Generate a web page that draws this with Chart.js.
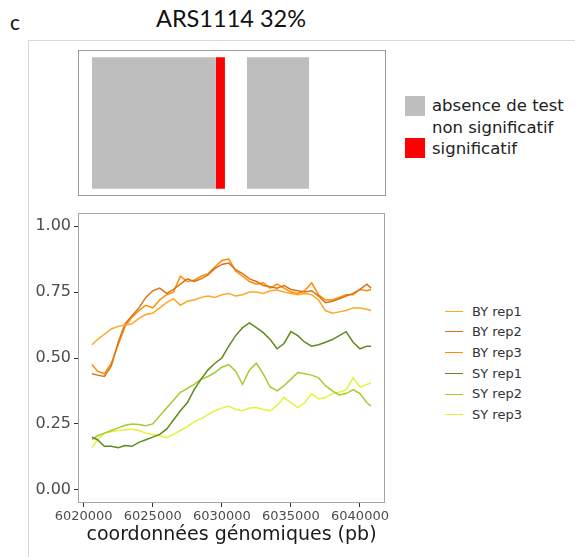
<!DOCTYPE html>
<html><head><meta charset="utf-8">
<script src="https://cdn.jsdelivr.net/npm/chart.js@4"></script>
<style>
html,body{margin:0;padding:0;background:#fff;width:575px;height:557px;overflow:hidden;position:relative;font-family:"DejaVu Sans",sans-serif;}
.abs{position:absolute;}
#frameTop{left:28px;top:40px;width:547px;height:0;border-top:1px solid #d9d9d9;}
#frameLeft{left:28px;top:40px;width:0;height:517px;border-left:1px solid #d9d9d9;}
#letter{left:10px;top:9px;font-family:Lato,"Open Sans",sans-serif;font-size:21px;color:#111;}
#title{left:121px;width:220px;top:4px;text-align:center;font-family:Lato,"Open Sans",sans-serif;font-size:23.5px;color:#111;}
.lg1{font-size:16.5px;color:#222;white-space:nowrap;line-height:18px;}
.sw{width:20px;height:20px;}
.lg2{font-size:13px;color:#333;white-space:nowrap;line-height:16px;}
.ln{width:18px;height:0;border-top:1.5px solid;}
</style></head>
<body>
<div id="frameTop" class="abs"></div>
<div id="frameLeft" class="abs"></div>
<div id="letter" class="abs">c</div>
<div id="title" class="abs">ARS1114 32%</div>
<div class="abs" style="left:78px;top:50px;width:308px;height:146px;"><canvas id="top"></canvas></div>
<div class="abs" style="left:0px;top:205px;width:390px;height:352px;"><canvas id="main"></canvas></div>
<div id="legTop"></div>
<div id="legMain"></div>
<script>
// ---- data ----
const positions = [6020600,6021000,6021500,6022000,6022500,6023000,6023500,6024000,6024500,6025000,6025500,6026000,6026500,6027000,6027500,6028000,6028500,6029000,6029500,6030000,6030500,6031000,6031500,6032000,6032500,6033000,6033500,6034000,6034500,6035000,6035500,6036000,6036500,6037000,6037500,6038000,6038500,6039000,6039500,6040000,6040500,6040800];
const BY_rep1 = [0.55,0.57,0.59,0.61,0.62,0.625,0.63,0.65,0.665,0.67,0.69,0.71,0.725,0.70,0.715,0.72,0.73,0.735,0.73,0.74,0.745,0.735,0.74,0.75,0.75,0.745,0.755,0.758,0.75,0.745,0.74,0.745,0.74,0.72,0.68,0.67,0.675,0.68,0.69,0.69,0.685,0.68];
const BY_rep2 = [0.44,0.435,0.43,0.47,0.56,0.63,0.66,0.69,0.73,0.755,0.765,0.745,0.76,0.78,0.80,0.79,0.80,0.815,0.84,0.855,0.86,0.835,0.82,0.80,0.79,0.775,0.77,0.765,0.775,0.76,0.755,0.75,0.755,0.735,0.71,0.715,0.725,0.735,0.745,0.76,0.78,0.765];
const BY_rep3 = [0.475,0.45,0.44,0.48,0.55,0.62,0.655,0.68,0.70,0.69,0.72,0.74,0.75,0.81,0.79,0.795,0.81,0.82,0.845,0.87,0.875,0.83,0.81,0.79,0.78,0.785,0.765,0.78,0.765,0.75,0.745,0.755,0.785,0.74,0.72,0.72,0.73,0.74,0.74,0.76,0.755,0.76];
const SY_rep1 = [0.20,0.19,0.165,0.165,0.16,0.168,0.165,0.18,0.19,0.20,0.21,0.23,0.265,0.30,0.33,0.38,0.42,0.455,0.48,0.50,0.545,0.585,0.615,0.633,0.615,0.596,0.57,0.535,0.555,0.60,0.585,0.56,0.545,0.55,0.56,0.57,0.585,0.60,0.56,0.535,0.545,0.545];
const SY_rep2 = [0.19,0.205,0.215,0.225,0.235,0.245,0.25,0.248,0.243,0.25,0.28,0.31,0.34,0.37,0.385,0.40,0.42,0.43,0.445,0.465,0.475,0.45,0.40,0.455,0.48,0.44,0.39,0.375,0.395,0.42,0.445,0.44,0.435,0.425,0.395,0.375,0.36,0.365,0.38,0.365,0.33,0.318];
const SY_rep3 = [0.16,0.19,0.215,0.22,0.225,0.228,0.23,0.225,0.215,0.21,0.205,0.198,0.21,0.225,0.24,0.258,0.27,0.285,0.30,0.31,0.318,0.305,0.30,0.31,0.312,0.305,0.30,0.32,0.35,0.33,0.312,0.33,0.365,0.345,0.35,0.365,0.37,0.38,0.425,0.39,0.40,0.405];
const seriesNames = ["BY rep1","BY rep2","BY rep3","SY rep1","SY rep2","SY rep3"];
const seriesColors = ["#FFA726","#D9731A","#FF8C00","#5F8A1E","#A3CC2E","#E4F23A"];
const xTicks = [6020000,6025000,6030000,6035000,6040000];
const yTicks = [0,0.25,0.5,0.75,1.0];
// test segments (top panel): [start, end]
const segAbsence = [[6020600,6029540],[6031780,6036260]];
const segSignif = [[6029540,6030190]];
const segLabelsTop = ["absence de test","non significatif","significatif"];
const X_MIN = 6019590, X_MAX = 6041810;

const borderPlugin = {
  id:'box',
  afterDraw(chart, args, opts){
    const a = chart.chartArea, c = chart.ctx;
    c.save(); c.strokeStyle = opts.color || '#a6a6a6'; c.lineWidth = 1;
    c.strokeRect(Math.round(a.left)+0.5, Math.round(a.top)+0.5, Math.round(a.right-a.left)-1, Math.round(a.bottom-a.top)-1);
    c.restore();
  }
};

// ---- top panel ----
const topData = [];
segAbsence.forEach(s=>topData.push({data:[s], backgroundColor:'#BEBEBE'}));
segSignif.forEach(s=>topData.push({data:[s], backgroundColor:'#FF0000'}));
new Chart(document.getElementById('top'), {
  type:'bar',
  data:{labels:['t'], datasets: topData.map(d=>({data:d.data, backgroundColor:d.backgroundColor, borderWidth:0, grouped:false, barPercentage:0.9, categoryPercentage:1}))},
  options:{
    indexAxis:'y', responsive:true, maintainAspectRatio:false, animation:false,
    layout:{padding:0},
    plugins:{legend:{display:false}, tooltip:{enabled:false}, box:{color:'#9a9a9a'}},
    scales:{
      x:{type:'linear', min:X_MIN, max:X_MAX, display:false},
      y:{display:false}
    }
  },
  plugins:[borderPlugin]
});

// ---- main panel ----
const ds = [BY_rep1,BY_rep2,BY_rep3,SY_rep1,SY_rep2,SY_rep3].map((arr,i)=>({
  label: seriesNames[i],
  data: positions.map((p,j)=>({x:p, y:arr[j]})),
  borderColor: seriesColors[i],
  backgroundColor: seriesColors[i],
  borderWidth:1.5, pointRadius:0, tension:0, fill:false
}));
new Chart(document.getElementById('main'), {
  type:'line',
  data:{datasets:ds},
  options:{
    responsive:true, maintainAspectRatio:false, animation:false,
    layout:{padding:{top:8,right:5,left:0,bottom:0}},
    plugins:{legend:{display:false}, tooltip:{enabled:false}, box:{color:'#a6a6a6'}},
    scales:{
      x:{type:'linear', min:X_MIN, max:X_MAX,
        afterBuildTicks(s){ s.ticks = xTicks.map(v=>({value:v})); },
        afterFit(s){ s.height = 54; s.paddingLeft = 0; s.paddingRight = 0; },
        grid:{drawOnChartArea:false, drawTicks:true, tickLength:4, tickColor:'#333'},
        border:{display:false},
        ticks:{color:'#4d4d4d', font:{family:'DejaVu Sans', size:13}, padding:2, maxRotation:0, autoSkip:false, callback:v=>String(v)},
        title:{display:true, text:'coordonnées génomiques (pb)', color:'#1a1a1a', font:{family:'DejaVu Sans', size:19}, padding:{top:0,bottom:11}}
      },
      y:{type:'linear', min:-0.05, max:1.05,
        afterBuildTicks(s){ s.ticks = yTicks.map(v=>({value:v})); },
        afterFit(s){ s.width = 78; s.paddingTop = 0; s.paddingBottom = 0; },
        grid:{drawOnChartArea:false, drawTicks:true, tickLength:4, tickColor:'#333'},
        border:{display:false},
        ticks:{color:'#4d4d4d', font:{family:'DejaVu Sans', size:16}, padding:3, callback:v=>Number(v).toFixed(2)}
      }
    }
  },
  plugins:[borderPlugin]
});

// ---- legends (HTML) ----
const lt = document.getElementById('legTop');
lt.innerHTML =
  '<div class="abs sw" style="left:405px;top:96px;background:#BEBEBE"></div>'+
  '<div class="abs lg1" style="left:432px;top:97px">'+segLabelsTop[0]+'</div>'+
  '<div class="abs lg1" style="left:432px;top:119px">'+segLabelsTop[1]+'</div>'+
  '<div class="abs sw" style="left:405px;top:138px;background:#FF0000"></div>'+
  '<div class="abs lg1" style="left:432px;top:140px">'+segLabelsTop[2]+'</div>';
const lm = document.getElementById('legMain');
let h = '';
seriesNames.forEach((n,i)=>{
  const y = 311.5 + i*20.7;
  h += '<div class="abs ln" style="left:445px;top:'+(y-0.75)+'px;border-color:'+seriesColors[i]+'"></div>';
  h += '<div class="abs lg2" style="left:472px;top:'+(y-8)+'px">'+n+'</div>';
});
lm.innerHTML = h;
</script>
</body></html>
